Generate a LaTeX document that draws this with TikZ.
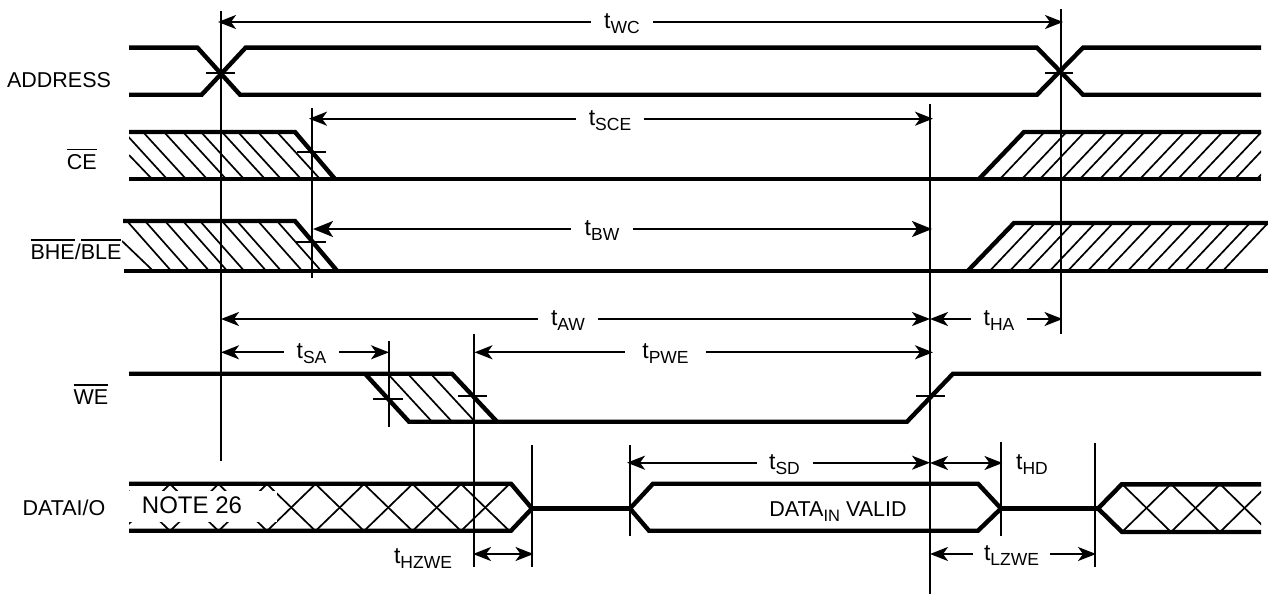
\documentclass[tikz,border=0pt]{standalone}
\usepackage{fontspec}
\setmainfont{Liberation Sans}
\usetikzlibrary{arrows.meta}
\newcommand{\ovl}[1]{\leavevmode\vbox{\hrule height 1.5pt \kern 3.6pt \hbox{#1}}}
\newcommand{\subtxt}[1]{\raisebox{-5pt}{\fontsize{17.5}{20}\selectfont #1}}
\newcommand{\subsmall}[1]{\raisebox{-5pt}{\fontsize{16.5}{20}\selectfont #1}}
\newcommand{\tlab}[1]{{\fontsize{23}{26}\selectfont t\subtxt{#1}}}
\tikzset{
  sig/.style={line width=4.4pt,line join=miter},
  guide/.style={line width=2.2pt},
  tickmark/.style={line width=2pt},
  hatchline/.style={line width=1.7pt},
  dimline/.style={line width=2pt,-{Stealth[length=18pt,width=14pt,inset=5pt]}},
  dimbig/.style={line width=2pt,-{Stealth[length=20pt,width=16pt,inset=5pt]}},
  dimboth/.style={line width=2pt,{Stealth[length=18pt,width=14pt,inset=5pt]}-{Stealth[length=18pt,width=14pt,inset=5pt]}},
  sigtext/.style={font=\fontsize{21.5}{24}\selectfont,inner sep=0pt,anchor=base},
  gaplabel/.style={font=\fontsize{21.5}{24}\selectfont,inner sep=0pt,outer sep=0pt,text height=17pt,text depth=4pt,align=center},
}
\begin{document}
\begin{tikzpicture}[x=1pt,y=-1pt]
\useasboundingbox (0,0) rectangle (1268,594);
\fill[white] (0,0) rectangle (1268,594);

% guide end points
\coordinate (v1t) at (220.7,11);   \coordinate (v1b) at (220.7,460.7);
\coordinate (v2t) at (312,108);    \coordinate (v2b) at (312,278);
\coordinate (v3t) at (388.6,341);  \coordinate (v3b) at (388.6,426.7);
\coordinate (v4t) at (474,334);    \coordinate (v4b) at (474,567);
\coordinate (v5t) at (930,104);    \coordinate (v5b) at (930,593.5);
\coordinate (v6t) at (1061,9);     \coordinate (v6b) at (1061,334);
\coordinate (v7t) at (1000.7,442); \coordinate (v7b) at (1000.7,535.5);
\coordinate (v8t) at (1094.7,443); \coordinate (v8b) at (1094.7,567);
\coordinate (v9t) at (532,445);    \coordinate (v9b) at (532,567);
\coordinate (v10t) at (630,445);   \coordinate (v10b) at (630,535.7);

% hatching: CE left
\begin{scope}[hatchline]
\clip (129,132) rectangle (340,179);
\foreach \x in {124,143,164,183,201,222,238,258,277} \draw (\x,132) -- ++(43,47);
\draw (129,155) -- (152,179);
\end{scope}
% hatching: BHE left
\begin{scope}[hatchline]
\clip (122,221) rectangle (340,270.7);
\foreach \x in {127,145,165,183,200,222,237,258,277} \draw (\x,221) -- ++(44,49.7);
\draw (122,241) -- (153,270.7);
\end{scope}
% hatching: CE right
\begin{scope}[hatchline]
\clip (979,132) rectangle (1261,179);
\foreach \x in {1000,1022,1040,1062,1080,1100,1118,1140,1158,1178,1197,1217,1235,1257} \draw (\x,179) -- ++(44.5,-47);
\end{scope}
% hatching: BHE right
\begin{scope}[hatchline]
\clip (968,223) rectangle (1268,270.7);
\foreach \x in {990,1010,1028,1050,1068,1088,1107,1128,1147,1167,1185,1205,1223} \draw (\x,270.7) -- ++(45,-47.7);
\end{scope}
% hatching: WE
\begin{scope}[hatchline]
\foreach \x in {388,408,431} \draw (\x,374) -- ++(44,47.7);
\end{scope}
% hatching: DATA left
\begin{scope}[hatchline]
\clip (129,484) -- (511,484) -- (532,508) -- (511,531) -- (129,531) -- cycle;
\foreach \x in {121.5,170,218.5,267,315.5,364,412.5,461} {
  \draw (\x,484) -- ++(48.5,47);
  \draw (\x+48.5,484) -- ++(-48.5,47);
}
\end{scope}
\fill[white] (129,490.5) rectangle (277,522);
% hatching: DATA right
\begin{scope}[hatchline]
\clip (1122,484) rectangle (1261,532);
\foreach \x in {1122,1171,1220} {
  \draw (\x,484) -- ++(49,48);
  \draw (\x+49,484) -- ++(-49,48);
}
\end{scope}

% signals
\begin{scope}[sig]
% ADDRESS
\draw (129,47.7) -- (197.5,47.7) -- (240,94.7) -- (1037,94.7) -- (1083,47.7) -- (1261,47.7);
\draw (129,94.7) -- (201.7,94.7) -- (245.6,47.7) -- (1037,47.7) -- (1083,94.7) -- (1261,94.7);
% CE
\draw (129,132) -- (295,132) -- (335,179);
\draw (129,179) -- (1261,179);
\draw (979,179) -- (1024,132) -- (1261,132);
% BHE/BLE
\draw (123,221) -- (295,221) -- (337,270.7);
\draw (124,270.7) -- (1268,270.7);
\draw (968,270.7) -- (1014,223) -- (1268,223);
% WE
\draw (129,373.7) -- (452,373.7) -- (497,421.7);
\draw (365,373.7) -- (409,421.7) -- (907,421.7) -- (953,373.7) -- (1261,373.7);
% DATA
\draw (129,483.7) -- (511,483.7) -- (532,508.5) -- (511,530.7) -- (129,530.7);
\draw (532,508.5) -- (630,508.5);
\draw (978,483.7) -- (653,483.7) -- (630,508.5) -- (649,530.7) -- (978,530.7) -- (1001,508.5) -- cycle;
\draw (1001,508.5) -- (1098,508.5);
\draw (1261,484.3) -- (1121.7,484.3) -- (1098,508.5) -- (1122,532) -- (1261,532);
\end{scope}

% guides
\foreach \v in {v1,v2,v3,v4,v5,v6,v7,v8,v9,v10} \draw[guide] (\v t) -- (\v b);

% crossing ticks
\begin{scope}[tickmark]
\draw (206,72.5) -- (235,72.5);
\draw (1045,72.5) -- (1073,72.5);
\draw (297,151.7) -- (326,151.7);
\draw (296,241.7) -- (326,241.7);
\draw (373,398.7) -- (403,398.7);
\draw (458,395.7) -- (487,395.7);
\draw (916,395.7) -- (945,395.7);
\end{scope}

% dimension arrows
\node[gaplabel,minimum width=62pt] (tWC) at (622,22) {\tlab{WC}};
\coordinate (wcL) at (218,22); \coordinate (wcR) at (1063,22);
\draw[dimline] (tWC) -- (wcL); \draw[dimline] (tWC) -- (wcR);

\node[gaplabel,minimum width=68pt] (tSCE) at (610,118.7) {\tlab{SCE}};
\coordinate (sceL) at (309,118.7); \coordinate (sceR) at (933,118.7);
\draw[dimline] (tSCE) -- (sceL); \draw[dimline] (tSCE) -- (sceR);

\node[gaplabel,minimum width=62pt] (tBW) at (602,229) {\tlab{BW}};
\coordinate (bwL) at (313,229); \coordinate (bwR) at (932,229);
\draw[dimbig] (tBW) -- (bwL); \draw[dimbig] (tBW) -- (bwR);

\node[gaplabel,minimum width=60pt] (tAW) at (568,319) {\tlab{AW}};
\coordinate (awL) at (221,319); \coordinate (awR) at (930,319);
\draw[dimline] (tAW) -- (awL); \draw[dimline] (tAW) -- (awR);

\node[gaplabel,minimum width=56pt] (tHA) at (999,319) {\tlab{HA}};
\coordinate (haL) at (930,319); \coordinate (haR) at (1062.5,319);
\draw[dimline] (tHA) -- (haL); \draw[dimline] (tHA) -- (haR);

\node[gaplabel,minimum width=55pt] (tSA) at (311.5,352.3) {\tlab{SA}};
\coordinate (saL) at (221,352.3); \coordinate (saR) at (389,352.3);
\draw[dimline] (tSA) -- (saL); \draw[dimline] (tSA) -- (saR);

\node[gaplabel,minimum width=81pt] (tPWE) at (665.5,352.3) {\tlab{PWE}};
\coordinate (pweL) at (474.5,352.3); \coordinate (pweR) at (933,352.3);
\draw[dimline] (tPWE) -- (pweL); \draw[dimline] (tPWE) -- (pweR);

\node[gaplabel,minimum width=56pt] (tSD) at (784.5,462.7) {\tlab{SD}};
\coordinate (sdL) at (627,462.7); \coordinate (sdR) at (930,462.7);
\draw[dimline] (tSD) -- (sdL); \draw[dimline] (tSD) -- (sdR);

\coordinate (hdL) at (930,463); \coordinate (hdR) at (1002.5,463);
\draw[dimboth] (hdL) -- (hdR);
\node[gaplabel] (tHD) at (1032,463) {\tlab{HD}};

\coordinate (hzL) at (473,554); \coordinate (hzR) at (533.5,554);
\draw[dimboth] (hzL) -- (hzR);
\node[gaplabel] (tHZWE) at (423,556.5) {\tlab{HZWE}};

\node[gaplabel,minimum width=77pt] (tLZWE) at (1011.5,554) {\tlab{LZWE}};
\coordinate (lzL) at (930,554); \coordinate (lzR) at (1096,554);
\draw[dimline] (tLZWE) -- (lzL); \draw[dimline] (tLZWE) -- (lzR);

% signal names
\node[sigtext] (address) at (59,87.3) {ADDRESS};
\node[sigtext] (ce) at (81.7,169) {\ovl{CE}};
\node[sigtext] (bhe) at (76,259) {\ovl{BHE}\kern0pt/\ovl{BLE}};
\node[sigtext] (we) at (91,404) {\ovl{WE}};
\node[sigtext] (dataio) at (64,515) {DATAI/O};
\node[sigtext,font=\fontsize{24}{28}\selectfont] (note) at (192,513) {NOTE 26};
\node[sigtext] (valid) at (838,516) {DATA\subsmall{IN} VALID};
\end{tikzpicture}
\end{document}
